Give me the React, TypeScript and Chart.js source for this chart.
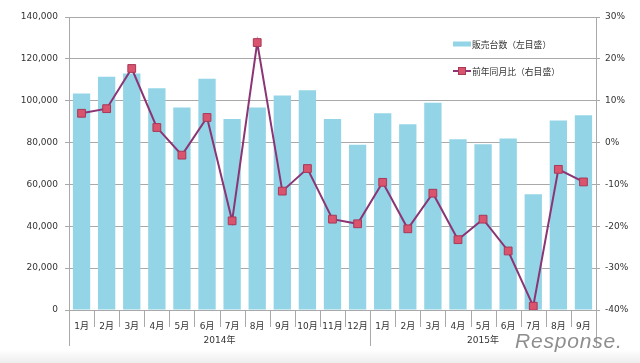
import React, { useEffect, useRef } from 'react';
import { Chart, registerables } from 'chart.js';

Chart.register(...registerables);

const months = ['1月', '2月', '3月', '4月', '5月', '6月', '7月', '8月', '9月', '10月', '11月', '12月',
  '1月', '2月', '3月', '4月', '5月', '6月', '7月', '8月', '9月'];
const yearLabels = ['2014年', '2015年'];
const yearMonthCounts = [12, 9];
const salesUnits = [103500, 111500, 113000, 106000, 96700, 110500, 91300, 96700, 102500, 105000, 91300, 79000,
  94000, 88700, 99000, 81600, 79200, 82000, 55300, 90500, 93000];
const yoyPercent = [7.0, 8.1, 17.7, 3.6, -3.0, 6.0, -18.7, 23.9, -11.6, -6.2, -18.3, -19.4,
  -9.5, -20.6, -12.1, -23.2, -18.3, -25.9, -39.1, -6.4, -9.4];
const salesLabel = '販売台数（左目盛）';
const yoyLabel = '前年同月比（右目盛）';
const leftMin = 0, leftMax = 140000, leftStep = 20000;
const rightMin = -40, rightMax = 30, rightStep = 10;

const BAR = '#93d5e6';
const LINE = '#8b3575';
const MARK = '#d9546c';
const MARK_BORDER = '#a8385a';
const GRID = '#a9a9a9';
const TEXT = '#333333';
const FONT = "'DejaVu Sans', 'Noto Sans CJK JP', sans-serif";
const JFONT = "'Noto Sans CJK JP', 'DejaVu Sans', sans-serif";

const axisPlugin = {
  id: 'groupAxis',
  afterDraw(chart: any) {
    const { ctx, chartArea, scales } = chart;
    const x = scales.x;
    const n = months.length;
    const step = n > 1 ? x.getPixelForValue(1) - x.getPixelForValue(0) : chartArea.width;
    const boundary = (i: number) => x.getPixelForValue(i) - step / 2;
    const bottom = chartArea.bottom;
    ctx.save();
    ctx.strokeStyle = GRID;
    ctx.lineWidth = 1;
    const longIdx = [0];
    let acc = 0;
    yearMonthCounts.forEach((c) => { acc += c; longIdx.push(acc); });
    for (let i = 0; i <= n; i++) {
      const bx = Math.round(boundary(i)) + 0.5;
      const len = longIdx.includes(i) ? 36 : 17;
      ctx.beginPath();
      ctx.moveTo(bx, bottom);
      ctx.lineTo(bx, bottom + len);
      ctx.stroke();
    }
    ctx.fillStyle = TEXT;
    ctx.font = `9px ${FONT}`;
    ctx.textAlign = 'center';
    ctx.textBaseline = 'middle';
    let start = 0;
    yearLabels.forEach((lab, k) => {
      const end = start + yearMonthCounts[k];
      const cx = (boundary(start) + boundary(end)) / 2;
      ctx.fillText(lab, cx, bottom + 31);
      start = end;
    });
    // legend
    const lx = 453;
    const ly1 = 44;
    const ly2 = 71;
    ctx.fillStyle = BAR;
    ctx.fillRect(lx, ly1 - 2.5, 18, 5);
    ctx.strokeStyle = LINE;
    ctx.lineWidth = 2;
    ctx.beginPath();
    ctx.moveTo(lx, ly2);
    ctx.lineTo(lx + 18, ly2);
    ctx.stroke();
    ctx.fillStyle = MARK;
    ctx.strokeStyle = MARK_BORDER;
    ctx.lineWidth = 1;
    ctx.fillRect(lx + 5.5, ly2 - 3.5, 7, 7);
    ctx.strokeRect(lx + 5.5, ly2 - 3.5, 7, 7);
    ctx.fillStyle = TEXT;
    ctx.font = `8.8px ${JFONT}`;
    ctx.textAlign = 'left';
    ctx.fillText(salesLabel, lx + 19, ly1 + 0.5);
    ctx.fillText(yoyLabel, lx + 19, ly2 + 0.5);
    ctx.restore();
  },
};

export default function App() {
  const ref = useRef<HTMLCanvasElement>(null);
  useEffect(() => {
    document.body.style.margin = '0';
    const chart = new Chart(ref.current!, {
      type: 'bar',
      data: {
        labels: months,
        datasets: [
          {
            type: 'line',
            label: yoyLabel,
            data: yoyPercent,
            yAxisID: 'y1',
            borderColor: LINE,
            borderWidth: 2,
            pointStyle: 'rect',
            pointRadius: 5.5,
            pointBackgroundColor: MARK,
            pointBorderColor: MARK_BORDER,
            pointBorderWidth: 1,
            tension: 0,
            order: 0,
          } as any,
          {
            type: 'bar',
            label: salesLabel,
            data: salesUnits,
            yAxisID: 'y',
            backgroundColor: BAR,
            barPercentage: 0.69,
            categoryPercentage: 1,
            order: 1,
          },
        ],
      },
      options: {
        responsive: false,
        animation: false,
        layout: { padding: { top: 17, bottom: 0, left: 0, right: 0 } },
        plugins: { legend: { display: false }, tooltip: { enabled: false } },
        scales: {
          x: {
            grid: { display: false },
            border: { display: true, color: GRID },
            ticks: { color: TEXT, font: { size: 9, family: FONT }, padding: 3, maxRotation: 0, autoSkip: false },
            afterFit: (s: any) => { s.height = 53; },
          },
          y: {
            position: 'left',
            min: leftMin,
            max: leftMax,
            ticks: {
              stepSize: leftStep,
              color: TEXT,
              font: { size: 9, family: FONT },
              padding: 7,
              callback: (v: any) => Number(v).toLocaleString('en-US'),
            },
            grid: { color: GRID, tickLength: 4 },
            border: { color: GRID },
            afterFit: (s: any) => { s.width = 69; },
          },
          y1: {
            position: 'right',
            min: rightMin,
            max: rightMax,
            ticks: {
              stepSize: rightStep,
              color: TEXT,
              font: { size: 9, family: FONT },
              padding: 5,
              callback: (v: any) => `${v}%`,
            },
            grid: { drawOnChartArea: false, color: GRID, tickLength: 4 },
            border: { color: GRID },
            afterFit: (s: any) => { s.width = 44; },
          },
        },
      },
      plugins: [axisPlugin],
    });
    return () => chart.destroy();
  }, []);
  return (
    <div style={{ position: 'relative', width: 640, height: 363, background: '#fff', overflow: 'hidden' }}>
      <div style={{ position: 'absolute', left: 0, top: 350, width: 640, height: 13, background: 'linear-gradient(#ffffff, #ededed)' }} />
      <canvas ref={ref} width={640} height={363} style={{ position: 'absolute', left: 0, top: 0 }} />
      <div style={{ position: 'absolute', left: 515, top: 329, fontFamily: "'Liberation Sans', sans-serif", fontSize: 21, fontStyle: 'italic', color: '#8e8e8e', letterSpacing: 0.8 }}>Response.</div>
    </div>
  );
}
